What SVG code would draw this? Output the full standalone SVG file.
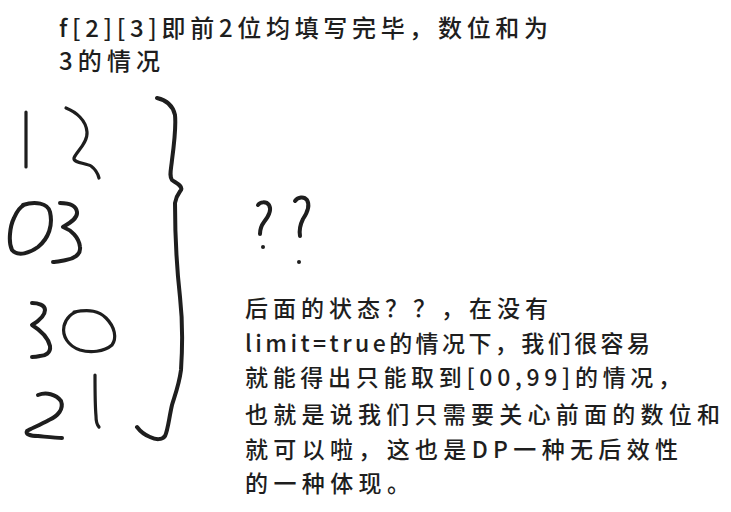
<svg xmlns="http://www.w3.org/2000/svg" width="731" height="512" viewBox="0 0 731 512">
<style>
.t{font-family:"Noto Sans CJK SC","Noto Sans",sans-serif;fill:#1e1e1e;font-weight:500}
.top{font-size:24px}
.low{font-size:23px}
.s{fill:none;stroke:#1e1e1e;stroke-linecap:round;stroke-linejoin:round;stroke-width:3.2}
.b{stroke-width:4}
</style>
<rect width="731" height="512" fill="#ffffff"/>
<g id="title">
<text class="t top" x="59" y="37" textLength="489" lengthAdjust="spacing">f[2][3]即前2位均填写完毕，数位和为</text>
<text class="t top" x="59" y="70" textLength="101" lengthAdjust="spacing">3的情况</text>
</g>
<g id="digits">
<path class="s" d="M26,112 L26,167"/>
<path class="s" d="M66,108 C76,112 86,120 87,132 C88,143 76,152 74,158 C73,163 86,163 91,166 C95,169 98,174 99,178"/>
<path class="s b" d="M23,205 C35,201 48,203 50,212 C53,225 49,238 38,247 C30,253 18,257 12,250 C8,242 10,226 14,218 C17,211 20,207 24,205"/>
<path class="s b" d="M60,203 C68,203 76,205 77,212 C78,219 68,224 63,227 C71,230 79,237 80,247 C81,255 73,259 66,260 C60,261 56,262 53,262"/>
<path class="s b" d="M32,303 C38,303 45,305 45,310 C45,317 37,322 32,325 C40,330 48,337 50,346 C51,353 45,356 40,356 C36,357 34,357 32,357"/>
<path class="s" d="M80,311 C72,312 66,318 64,326 C62,336 68,346 80,350 C90,353 104,352 112,345 C117,338 115,327 106,318 C99,311 90,309 74,312"/>
<path class="s b" d="M38,395 C46,392 56,394 61,401 C64,409 58,416 49,420 C40,425 30,429 27,431 C25,434 30,436 38,436 C48,437 56,438 62,438"/>
<path class="s" d="M95,375 C95,390 95,405 96,416 C96,422 98,426 99,427"/>
</g>
<g id="brace">
<path class="s b" d="M157,98 C166,100 173,106 175,115 C176,125 174,145 172,160 C171,170 169,176 172,180 C176,183 183,186 181,190 C179,193 176,196 175,203 C175,230 177,270 180,297 C182,315 183,340 181,370 C179,385 175,395 172,405 C169,418 168,430 165,436 C162,440 156,440 150,437 C145,435 140,431 137,427"/>
</g>
<g id="questions">
<path class="s b" d="M258,205 C260,202 266,201 269,205 C272,210 268,217 264,222 C261,226 260,230 260,234"/>
<circle cx="263" cy="247" r="2" fill="#1e1e1e"/>
<path class="s b" d="M295,201 C298,197 304,196 307,200 C310,205 307,213 303,219 C300,225 299,230 300,236"/>
<circle cx="299" cy="262" r="2" fill="#1e1e1e"/>
</g>
<g id="note">
<text class="t low" x="245" y="317" textLength="303" lengthAdjust="spacing">后面的状态？？，在没有</text>
<text class="t low" x="245" y="352" textLength="405" lengthAdjust="spacing">limit=true的情况下，我们很容易</text>
<text class="t low" x="245" y="386" textLength="436" lengthAdjust="spacing">就能得出只能取到[00,99]的情况，</text>
<text class="t low" x="245" y="423" textLength="475" lengthAdjust="spacing">也就是说我们只需要关心前面的数位和</text>
<text class="t low" x="245" y="458" textLength="433" lengthAdjust="spacing">就可以啦，这也是DP一种无后效性</text>
<text class="t low" x="245" y="492" textLength="165" lengthAdjust="spacing">的一种体现。</text>
</g>
</svg>
